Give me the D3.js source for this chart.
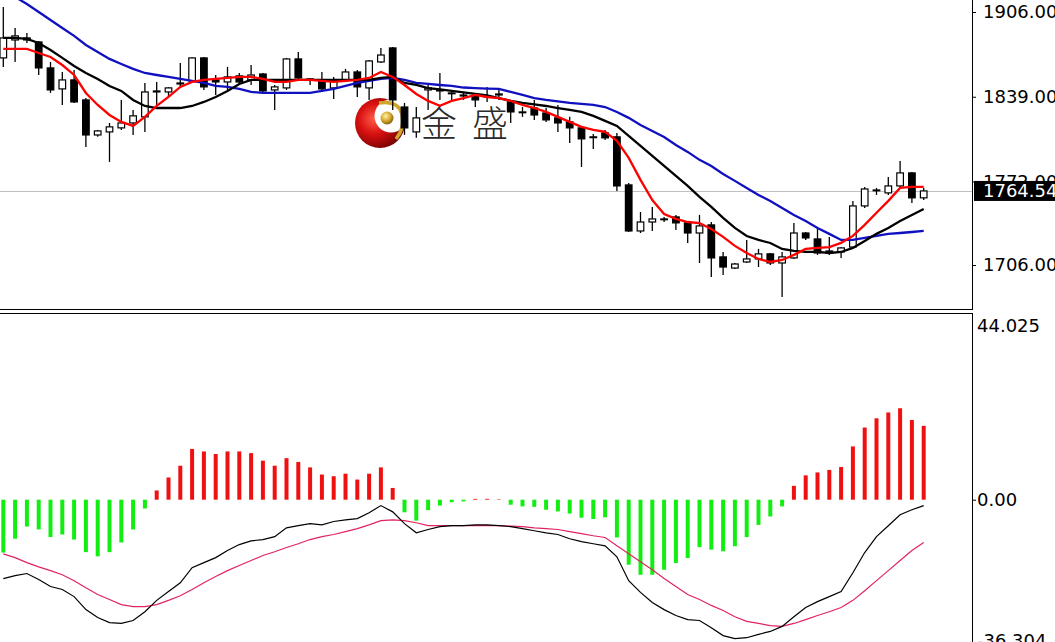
<!DOCTYPE html>
<html><head><meta charset="utf-8">
<script src="https://cdn.jsdelivr.net/npm/d3@7"></script>
<style>html,body{margin:0;padding:0;background:#fff;overflow:hidden}
text{font-family:"DejaVu Sans",Verdana,sans-serif}</style>
</head><body><svg id="c" width="1055" height="642"></svg>
<script>
const opens = [1869.7,1883.9,1885.5,1882.3,1861.8,1845.2,1852.3,1836.5,1808.8,1811.2,
1814.4,1818.3,1823.1,1842.8,1842.8,1849.1,1851.5,1869.7,1852.3,1850.7,
1855.5,1852.3,1857.0,1844.4,1846.0,1868.9,1853.1,1852.3,1846.0,1852.3,
1858.6,1846.0,1866.5,1877.6,1830.9,1811.2,1844.4,1844.4,1842.0,1840.4,
1839.6,1838.8,1840.4,1834.9,1827.0,1830.1,1826.2,1822.3,1819.1,1814.4,
1807.3,1810.4,1807.3,1769.3,1732.9,1740.0,1742.4,1744.0,1739.3,1731.3,
1737.7,1712.4,1703.6,1708.4,1710.8,1714.8,1707.6,1711.6,1731.3,1726.6,
1716.3,1716.3,1720.2,1752.7,1765.3,1763.0,1768.5,1778.8,1759.1];
const closes = [1885.5,1887.1,1883.9,1861.8,1844.4,1852.3,1834.9,1808.8,1812.0,1815.2,
1818.3,1823.9,1842.8,1843.6,1846.0,1849.9,1869.7,1846.8,1850.7,1854.7,
1850.7,1856.2,1843.6,1846.8,1868.9,1853.9,1852.3,1845.2,1852.3,1858.6,
1846.8,1867.3,1872.0,1836.5,1814.4,1822.3,1846.0,1843.6,1841.6,1839.6,
1836.5,1839.6,1841.2,1827.0,1826.6,1824.6,1820.7,1818.3,1814.4,1805.7,
1806.9,1806.5,1768.5,1732.9,1740.0,1742.4,1742.0,1739.3,1731.3,1736.9,
1711.6,1704.4,1706.8,1710.8,1714.8,1707.6,1712.4,1731.3,1727.4,1715.5,
1717.1,1719.5,1752.7,1766.1,1765.0,1768.5,1778.8,1759.1,1764.54];
const highs = [1910.0,1893.4,1889.4,1883.1,1866.5,1858.6,1860.2,1838.0,1812.8,1818.3,
1836.5,1828.6,1849.9,1850.7,1846.5,1865.7,1870.2,1870.5,1856.2,1862.6,
1857.8,1864.1,1857.8,1848.3,1869.7,1874.4,1853.9,1858.6,1854.7,1861.0,
1860.2,1868.1,1877.6,1878.4,1834.1,1831.0,1848.3,1857.8,1844.4,1842.0,
1841.2,1846.8,1844.4,1836.5,1830.9,1836.5,1830.1,1832.5,1823.1,1815.2,
1809.6,1812.8,1810.4,1770.9,1747.9,1751.9,1744.0,1745.6,1740.0,1745.6,
1740.0,1716.3,1707.6,1725.8,1718.7,1715.5,1716.3,1739.3,1732.1,1736.1,
1728.2,1720.2,1756.6,1767.7,1766.9,1775.6,1788.2,1779.6,1766.9];
const lows = [1862.5,1866.5,1881.5,1856.2,1842.0,1832.5,1834.1,1799.3,1807.3,1787.5,
1812.8,1808.8,1811.2,1831.8,1838.9,1846.0,1851.0,1844.4,1840.4,1844.4,
1848.3,1848.3,1842.8,1828.6,1844.4,1852.3,1848.3,1842.8,1837.3,1850.7,
1838.9,1836.5,1865.7,1828.6,1808.8,1806.5,1828.6,1836.5,1836.5,1836.5,
1830.9,1834.9,1836.5,1818.3,1823.1,1820.7,1819.1,1811.2,1802.5,1783.5,
1797.7,1804.9,1764.5,1732.1,1731.3,1732.9,1740.0,1733.7,1723.4,1707.6,
1696.5,1698.1,1702.9,1707.6,1704.4,1706.0,1680.7,1710.8,1725.8,1714.0,
1714.0,1711.6,1719.5,1751.1,1761.4,1761.4,1767.7,1755.1,1757.4];
const maFast = [1876.8,1876.8,1876.8,1873.6,1870.4,1864.1,1856.2,1842.0,1832.5,1824.6,
1819.1,1816.0,1823.1,1831.8,1838.9,1846.8,1850.7,1852.3,1853.1,1853.9,
1854.7,1854.7,1853.1,1850.7,1850.7,1852.3,1852.3,1851.5,1850.7,1851.5,
1852.3,1853.9,1858.6,1854.7,1848.3,1841.2,1835.7,1831.8,1835.7,1838.0,
1840.4,1838.8,1838.0,1835.7,1832.5,1830.1,1827.0,1823.1,1819.1,1815.2,
1812.8,1811.2,1804.1,1790.7,1773.3,1757.4,1746.3,1742.5,1740.0,1739.2,
1734.5,1728.2,1721.1,1715.5,1710.8,1708.4,1710.0,1714.0,1718.7,1719.5,
1720.2,1723.5,1729.0,1737.7,1747.3,1756.7,1766.9,1767.7,1767.7];
const maMid = [1885.5,1885.5,1884.7,1881.5,1876.0,1869.7,1863.3,1857.8,1853.1,1847.5,
1843.6,1836.5,1831.7,1830.1,1830.1,1830.1,1831.7,1834.9,1838.8,1843.6,
1849.1,1852.3,1852.3,1852.3,1852.3,1852.3,1852.3,1852.3,1852.3,1852.3,
1852.3,1852.3,1853.9,1854.7,1849.9,1848.3,1845.9,1844.8,1843.6,1842.4,
1841.2,1840.0,1838.0,1835.7,1834.1,1832.9,1831.7,1830.1,1828.6,1827.0,
1823.9,1819.9,1815.9,1808.0,1800.1,1792.2,1784.3,1776.4,1768.5,1759.8,
1751.9,1743.2,1735.3,1728.9,1725.8,1723.4,1718.7,1717.1,1716.3,1716.3,
1715.5,1716.3,1719.5,1725.0,1730.6,1735.3,1740.8,1745.6,1750.2];
const maSlow = [1924.2,1917.9,1912.3,1906.0,1899.7,1893.4,1887.1,1879.9,1874.4,1868.9,
1864.9,1861.0,1857.8,1856.2,1854.7,1853.1,1851.5,1849.9,1847.6,1846.8,
1845.2,1842.8,1842.0,1842.0,1842.0,1842.0,1842.0,1843.6,1845.2,1847.6,
1849.9,1851.5,1853.1,1853.9,1852.3,1849.9,1849.1,1848.3,1847.6,1846.3,
1845.9,1845.5,1845.2,1842.8,1840.4,1838.0,1836.5,1835.3,1834.1,1833.3,
1832.5,1830.9,1827.0,1822.3,1816.7,1812.0,1807.2,1800.9,1795.4,1789.1,
1784.3,1778.0,1772.5,1766.9,1761.4,1756.6,1751.1,1745.6,1740.8,1735.3,
1730.6,1725.8,1725.8,1727.4,1729.0,1730.6,1731.3,1732.1,1732.9];
const macdHist = [-12.6,-9.3,-6.4,-7.1,-8.9,-8.3,-9.5,-12.5,-13.5,-12.5,
-10.2,-7.1,-2.1,2.2,5.3,8.1,12.1,11.5,10.9,11.5,
11.5,11.1,9.3,8.1,9.9,9.0,7.7,6.0,5.6,6.2,
4.8,6.2,7.7,2.8,-3.0,-5.0,-2.5,-1.4,-0.6,-0.4,
0.2,0.2,0.1,-1.2,-1.6,-1.7,-2.4,-2.8,-3.3,-4.3,
-4.6,-4.2,-9.0,-15.5,-17.9,-17.9,-16.7,-15.1,-13.9,-11.3,
-11.9,-12.3,-11.1,-8.9,-6.0,-4.0,-1.6,3.3,5.8,6.5,
7.1,7.8,12.7,17.2,19.4,20.8,21.8,19.0,17.6];
const dif = [-18.8,-18.1,-17.6,-19.0,-20.7,-21.4,-23.1,-26.2,-28.1,-29.3,
-29.5,-28.8,-26.7,-24.0,-21.9,-19.8,-16.2,-15.0,-13.8,-12.1,
-10.7,-9.8,-9.5,-8.8,-6.7,-6.2,-5.7,-6.0,-5.2,-4.8,
-4.5,-3.1,-1.4,-2.9,-5.7,-7.9,-7.1,-6.4,-6.2,-6.2,
-6.0,-6.0,-6.2,-6.4,-6.9,-7.4,-7.9,-8.3,-9.3,-10.0,
-10.5,-11.0,-13.6,-19.3,-22.1,-24.5,-26.2,-27.6,-28.6,-28.8,
-30.5,-32.4,-33.1,-32.9,-32.1,-31.4,-30.2,-27.9,-25.7,-24.3,
-23.1,-21.9,-17.4,-12.6,-8.8,-6.2,-3.6,-2.4,-1.4];
const dea = [-12.9,-13.8,-15.0,-16.0,-16.9,-17.9,-19.3,-21.0,-22.6,-23.8,
-25.0,-25.5,-25.5,-25.0,-24.0,-22.9,-21.4,-19.8,-18.3,-16.9,
-15.7,-14.5,-13.3,-12.4,-11.4,-10.5,-9.5,-8.8,-8.3,-7.6,
-6.9,-6.0,-5.0,-4.8,-5.0,-5.5,-6.2,-6.2,-6.2,-6.2,
-6.2,-6.2,-6.2,-6.3,-6.4,-6.7,-6.9,-7.1,-7.6,-8.1,
-8.6,-9.0,-11.0,-12.9,-14.8,-16.7,-18.8,-20.7,-22.6,-23.8,
-25.2,-26.4,-27.9,-29.0,-29.5,-30.0,-30.2,-29.5,-28.6,-27.6,
-26.7,-25.7,-24.0,-21.7,-19.3,-16.9,-14.5,-12.1,-10.2];
const priceTicks = [1906, 1839, 1772, 1706];
const lastPrice = 1764.54;
const macdMax = 44.025, macdMin = -36.304;
const macdTicks = [0];

const W = 1055, H = 642, plotR = 972;
const svg = d3.select("#c");
const defs = svg.append("defs");
defs.append("clipPath").attr("id","cp").append("rect").attr("x",0).attr("y",0).attr("width",plotR).attr("height",309);
defs.append("clipPath").attr("id","cm").append("rect").attr("x",0).attr("y",314).attr("width",plotR).attr("height",H-314);
const rg = defs.append("radialGradient").attr("id","ball").attr("cx","38%").attr("cy","42%").attr("r","68%");
rg.append("stop").attr("offset","0%").attr("stop-color","#ff5c48");
rg.append("stop").attr("offset","45%").attr("stop-color","#d81010");
rg.append("stop").attr("offset","100%").attr("stop-color","#6a0000");
const gg = defs.append("radialGradient").attr("id","gold").attr("cx","40%").attr("cy","35%").attr("r","65%");
gg.append("stop").attr("offset","0%").attr("stop-color","#fff3a8");
gg.append("stop").attr("offset","60%").attr("stop-color","#d2a42a");
gg.append("stop").attr("offset","100%").attr("stop-color","#856410");

const n = closes.length;
const idx = d3.range(n);
const x = d3.scaleLinear().domain([0, n - 1]).range([3.3, 923.7]);
const yP = d3.scaleLinear().domain([1706, 1906]).range([265, 12]);
const yM = d3.scaleLinear().domain([macdMin, macdMax]).range([652, 315]);

// ---- price panel ----
const gP = svg.append("g").attr("clip-path","url(#cp)");
// logo watermark
const logo = gP.append("g");
logo.append("circle").attr("cx",380).attr("cy",123).attr("r",25).attr("fill","url(#ball)");
logo.append("circle").attr("cx",391).attr("cy",116).attr("r",16.5).attr("fill","#fff");
logo.append("path").attr("d","M379,103 Q398,100 402,114 Q405,128 396,139").attr("fill","none").attr("stroke","#d2a42a").attr("stroke-width",3.5);
logo.append("circle").attr("cx",387).attr("cy",118).attr("r",6.5).attr("fill","url(#gold)");
logo.append("text").attr("x",421).attr("y",137).attr("font-size",36).attr("font-weight",300)
  .style("font-family","'Noto Sans CJK SC'").attr("fill","#2a2a2a").text("金");
logo.append("text").attr("x",472).attr("y",137).attr("font-size",36).attr("font-weight",300)
  .style("font-family","'Noto Sans CJK SC'").attr("fill","#2a2a2a").text("盛");

// current price line
gP.append("line").attr("x1",0).attr("x2",plotR).attr("y1",Math.round(yP(lastPrice))+0.5).attr("y2",Math.round(yP(lastPrice))+0.5)
  .attr("stroke","#c0c0c0").attr("stroke-width",1);

// candles
gP.selectAll("line.wick").data(idx).join("line").attr("class","wick")
  .attr("x1", i => x(i)).attr("x2", i => x(i))
  .attr("y1", i => yP(highs[i])).attr("y2", i => yP(lows[i]))
  .attr("stroke","#000").attr("stroke-width",1.3);
gP.selectAll("rect.body").data(idx).join("rect").attr("class","body")
  .attr("x", i => x(i) - 3.3).attr("width", 6.6)
  .attr("y", i => yP(Math.max(opens[i], closes[i])))
  .attr("height", i => Math.max(0.8, Math.abs(yP(opens[i]) - yP(closes[i]))))
  .attr("fill", i => closes[i] >= opens[i] ? "#fff" : "#000")
  .attr("stroke","#000").attr("stroke-width",1.2);

const lineP = d3.line().x((d,i) => x(i)).y(d => yP(d));
gP.append("path").attr("d", lineP(maSlow)).attr("fill","none").attr("stroke","#1010c0").attr("stroke-width",2.3);
gP.append("path").attr("d", lineP(maMid)).attr("fill","none").attr("stroke","#000").attr("stroke-width",2.3);
gP.append("path").attr("d", lineP(maFast)).attr("fill","none").attr("stroke","#f00").attr("stroke-width",2.3);

// ---- MACD panel ----
const gM = svg.append("g").attr("clip-path","url(#cm)");
gM.selectAll("line.hb").data(idx).join("line").attr("class","hb")
  .attr("x1", i => x(i)).attr("x2", i => x(i))
  .attr("y1", yM(0)).attr("y2", i => yM(macdHist[i]))
  .attr("stroke", i => macdHist[i] >= 0 ? "#f01010" : "#12ee12").attr("stroke-width",4);
const lineM = d3.line().x((d,i) => x(i)).y(d => yM(d));
gM.append("path").attr("d", lineM(dea)).attr("fill","none").attr("stroke","#e0245e").attr("stroke-width",1.2);
gM.append("path").attr("d", lineM(dif)).attr("fill","none").attr("stroke","#000").attr("stroke-width",1.2);

// ---- frames ----
svg.append("line").attr("x1",plotR+0.5).attr("x2",plotR+0.5).attr("y1",0).attr("y2",310).attr("stroke","#000");
svg.append("line").attr("x1",plotR+0.5).attr("x2",plotR+0.5).attr("y1",313).attr("y2",H).attr("stroke","#000");
svg.append("line").attr("x1",0).attr("x2",plotR+1).attr("y1",309.5).attr("y2",309.5).attr("stroke","#000");
svg.append("line").attr("x1",0).attr("x2",plotR+1).attr("y1",313.5).attr("y2",313.5).attr("stroke","#000");

// ---- axes ----
const axP = svg.append("g").attr("transform",`translate(${plotR},0)`)
  .call(d3.axisRight(yP).tickValues(priceTicks).tickSize(4).tickPadding(7).tickFormat(d3.format(".2f")));
axP.select(".domain").remove();
axP.selectAll("text").attr("font-size",18).style("font-family","'DejaVu Sans'").attr("fill","#000");
axP.selectAll("line").attr("stroke","#000");

// last price tag
const ly = yP(lastPrice);
svg.append("rect").attr("x",974).attr("y",ly-10).attr("width",W-974).attr("height",20).attr("fill","#000");
svg.append("text").attr("x",983).attr("y",ly).attr("dy","0.35em").attr("font-size",18).attr("fill","#fff").text(d3.format(".2f")(lastPrice));

const axM = svg.append("g").attr("transform",`translate(${plotR},0)`)
  .call(d3.axisRight(yM).tickValues(macdTicks).tickSize(4).tickPadding(1).tickFormat(d3.format(".2f")));
axM.select(".domain").remove();
axM.selectAll("text").attr("font-size",18).style("font-family","'DejaVu Sans'").attr("fill","#000");
axM.selectAll("line").attr("stroke","#000");
svg.append("text").attr("x",977).attr("y",yM(macdMax)+11).attr("dy","0.35em").attr("font-size",18).attr("fill","#000").text(String(macdMax));
svg.append("text").attr("x",977).attr("y",yM(macdMin)-11).attr("dy","0.35em").attr("font-size",18).attr("fill","#000").text(String(macdMin));
</script></body></html>
